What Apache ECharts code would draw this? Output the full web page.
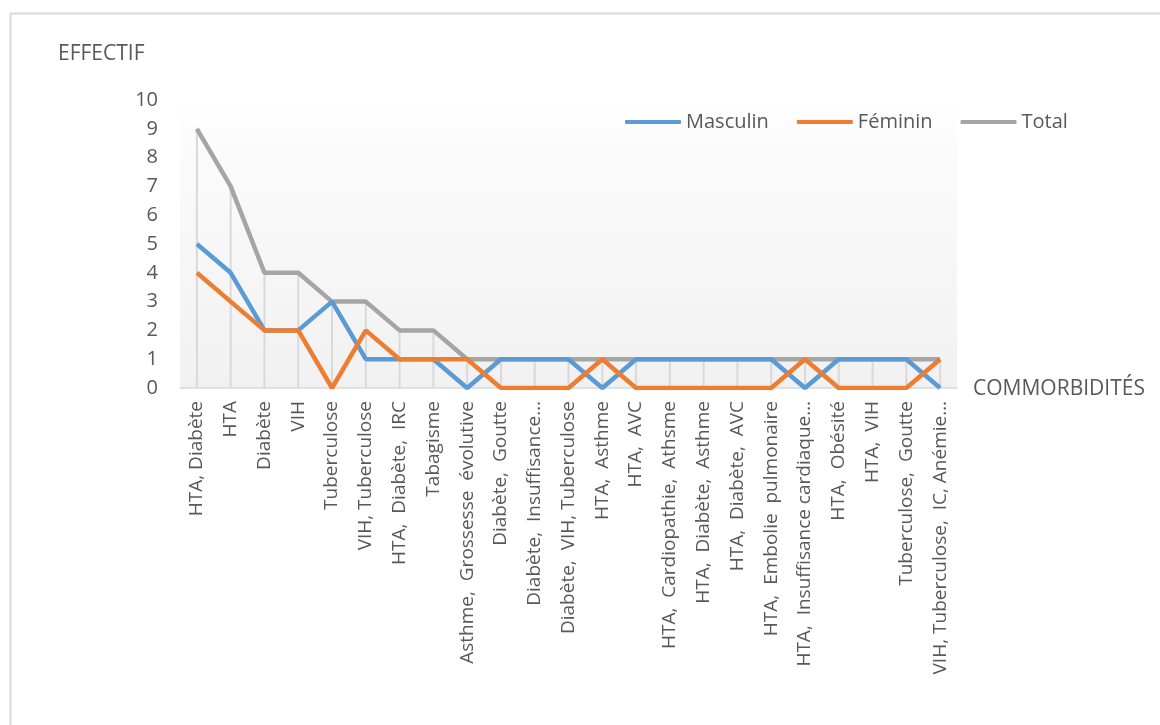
<!DOCTYPE html>
<html>
<head>
<meta charset="utf-8">
<title>Commorbidités</title>
<script src="https://cdn.jsdelivr.net/npm/echarts@6/dist/echarts.min.js"></script>
<style>
  html, body { margin: 0; padding: 0; background: #fff; }
  #chart { width: 1160px; height: 725px; }
</style>
</head>
<body>
<div id="chart"></div>
<script>
// categories as they appear (Excel truncates the long ones)
var categories = [
  "HTA, Diabète", "HTA", "Diabète", "VIH", "Tuberculose",
  "VIH, Tuberculose", "HTA,  Diabète,  IRC", "Tabagisme",
  "Asthme,  Grossesse  évolutive", "Diabète,  Goutte",
  "Diabète,  Insuffisance…", "Diabète,  VIH, Tuberculose",
  "HTA,  Asthme", "HTA,  AVC", "HTA,  Cardiopathie,  Athsme",
  "HTA,  Diabète,  Asthme", "HTA,  Diabète,  AVC",
  "HTA,  Embolie  pulmonaire", "HTA,  Insuffisance cardiaque…",
  "HTA,  Obésité", "HTA,  VIH", "Tuberculose,  Goutte",
  "VIH, Tuberculose,  IC, Anémie…"
];
var masculin = [5, 4, 2, 2, 3, 1, 1, 1, 0, 1, 1, 1, 0, 1, 1, 1, 1, 1, 0, 1, 1, 1, 0];
var feminin  = [4, 3, 2, 2, 0, 2, 1, 1, 1, 0, 0, 0, 1, 0, 0, 0, 0, 0, 1, 0, 0, 0, 1];
var total    = [9, 7, 4, 4, 3, 3, 2, 2, 1, 1, 1, 1, 1, 1, 1, 1, 1, 1, 1, 1, 1, 1, 1];
var yTicks = [0, 10, 1]; // min, max, interval

var font = "Open Sans";
var textColor = "#595959";

var chart = echarts.init(document.getElementById("chart"));
chart.setOption({
  animation: false,
  textStyle: { fontFamily: font },
  graphic: [
    {
      type: "rect",
      left: 8, top: 11,
      shape: { width: 1200, height: 800 },
      style: { fill: "none", stroke: "#d9d9d9", lineWidth: 2 },
      silent: true
    },
    {
      type: "text",
      left: 58, top: 44,
      style: { text: "EFFECTIF", fill: textColor, font: "21px 'Open Sans'" }
    },
    {
      type: "text",
      left: 973, top: 379,
      style: { text: "COMMORBIDITÉS", fill: textColor, font: "21px 'Open Sans'" }
    }
  ],
  legend: {
    data: ["Masculin", "Féminin", "Total"],
    left: 620, top: 107,
    icon: "roundRect",
    itemWidth: 56, itemHeight: 4, itemGap: 28,
    textStyle: { color: textColor, fontSize: 20, fontFamily: font }
  },
  grid: {
    left: 180, right: 203, top: 100, bottom: 337,
    show: true, borderWidth: 0,
    backgroundColor: new echarts.graphic.LinearGradient(0, 0, 0, 1, [
      { offset: 0, color: "#ffffff" },
      { offset: 0.12, color: "#fcfcfc" },
      { offset: 1, color: "#f1f1f1" }
    ])
  },
  xAxis: {
    type: "category",
    data: categories,
    boundaryGap: true,
    axisLine: { lineStyle: { color: "#d9d9d9", width: 1.5 } },
    axisTick: { show: false },
    splitLine: { show: false },
    axisLabel: {
      interval: 0, rotate: 90, margin: 13,
      color: textColor, fontSize: 19, fontFamily: font
    }
  },
  yAxis: {
    type: "value",
    min: yTicks[0], max: yTicks[1], interval: yTicks[2],
    axisLine: { show: false },
    axisTick: { show: false },
    splitLine: { show: false },
    axisLabel: { color: textColor, fontSize: 20, margin: 22, fontFamily: font }
  },
  series: [
    {
      // drop lines from the total down to the axis
      name: "drop",
      type: "bar",
      data: total,
      barWidth: 2,
      itemStyle: { color: "#d9d9d9" },
      silent: true,
      z: 1
    },
    {
      name: "Masculin",
      type: "line",
      data: masculin,
      symbol: "none",
      color: "#5b9bd5",
      lineStyle: { width: 4.5, color: "#5b9bd5" },
      z: 3
    },
    {
      name: "Féminin",
      type: "line",
      data: feminin,
      symbol: "none",
      color: "#ed7d31",
      lineStyle: { width: 4.5, color: "#ed7d31" },
      z: 4
    },
    {
      name: "Total",
      type: "line",
      data: total,
      symbol: "none",
      color: "#a5a5a5",
      lineStyle: { width: 4.5, color: "#a5a5a5" },
      z: 2
    }
  ]
});
</script>
</body>
</html>
